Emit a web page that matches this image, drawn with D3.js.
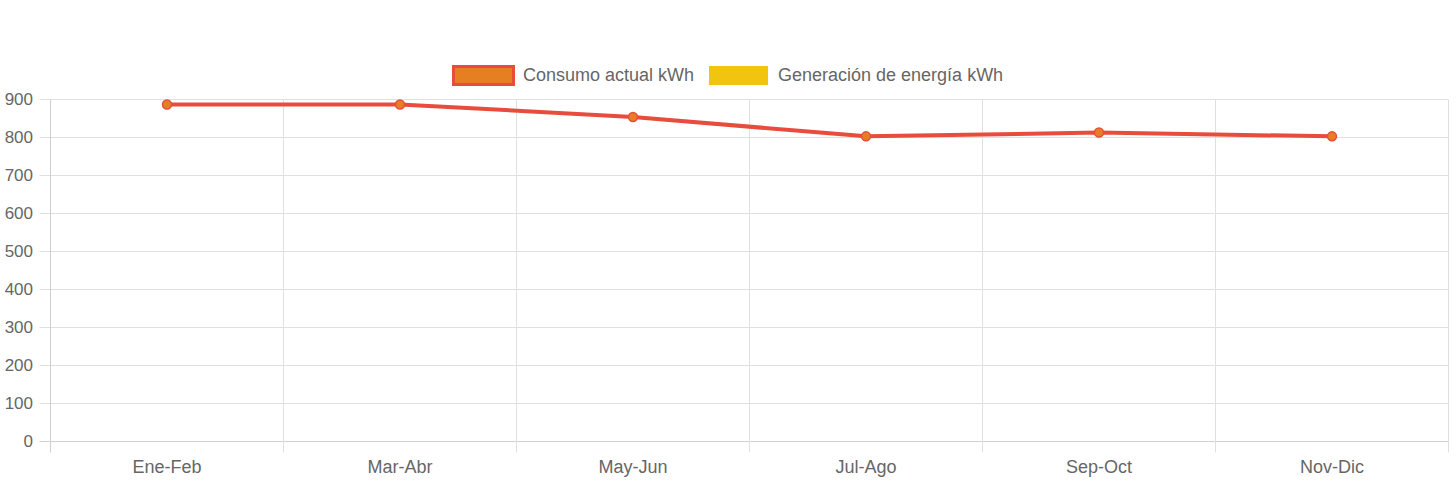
<!DOCTYPE html>
<html><head><meta charset="utf-8">
<script src="https://cdn.jsdelivr.net/npm/d3@7"></script>
<style>body{margin:0;background:#fff}svg{display:block}text{font-family:"Liberation Sans",Arial,sans-serif}</style>
</head><body><svg id="c" width="1456" height="484"></svg>
<script>
const categories = ["Ene-Feb","Mar-Abr","May-Jun","Jul-Ago","Sep-Oct","Nov-Dic"];
const consumo = [887, 887, 854, 803, 813, 803];
const generacion = [];
const yTicks = [0,100,200,300,400,500,600,700,800,900];
const seriesNames = ["Consumo actual kWh","Generación de energía kWh"];

const svg = d3.select("#c");
const L=50.5, R=1448.5, T=99.5, B=441.5;
const x = d3.scaleBand().domain(categories).range([L,R]);
const y = d3.scaleLinear().domain([0,900]).range([B,T]);
const grid = "#e0e0e0", txt="#666";

// horizontal grid
svg.append("g").selectAll("line").data(yTicks).join("line")
  .attr("x1",L-11).attr("x2",R).attr("y1",d=>y(d)).attr("y2",d=>y(d))
  .attr("stroke",d=>d===0?"#cfcfcf":grid).attr("stroke-width",1);
// vertical grid at band boundaries
const bounds = categories.map(c=>x(c)).concat([R]);
svg.append("g").selectAll("line").data(bounds).join("line")
  .attr("x1",d=>d).attr("x2",d=>d).attr("y1",T).attr("y2",B+11)
  .attr("stroke",(d,i)=>i===0?"#cfcfcf":grid).attr("stroke-width",1);

// y labels
svg.append("g").selectAll("text").data(yTicks).join("text")
  .attr("x",33).attr("y",d=>y(d)).attr("dy","0.35em").attr("text-anchor","end")
  .attr("font-size",17).attr("fill",txt).text(d=>d);
// x labels
svg.append("g").selectAll("text").data(categories).join("text")
  .attr("x",d=>x(d)+x.bandwidth()/2).attr("y",467).attr("dy","0.35em").attr("text-anchor","middle")
  .attr("font-size",18).attr("fill",txt).text(d=>d);

// line
const pts = categories.map((c,i)=>({c,v:consumo[i]}));
svg.append("path").datum(pts)
  .attr("d", d3.line().x(d=>x(d.c)+x.bandwidth()/2).y(d=>y(d.v)))
  .attr("fill","none").attr("stroke","#e74c3c").attr("stroke-width",4).attr("stroke-linejoin","round");
svg.append("g").selectAll("circle").data(pts).join("circle")
  .attr("cx",d=>x(d.c)+x.bandwidth()/2).attr("cy",d=>y(d.v)).attr("r",4.5)
  .attr("fill","#e67e22").attr("stroke","#e74c3c").attr("stroke-width",1.5);
const gpts = generacion.map((v,i)=>({c:categories[i],v}));
svg.append("path").datum(gpts)
  .attr("d", d3.line().x(d=>x(d.c)+x.bandwidth()/2).y(d=>y(d.v)))
  .attr("fill","none").attr("stroke","#f1c40f").attr("stroke-width",4);

// legend
const lg = svg.append("g");
lg.append("rect").attr("x",453.5).attr("y",66.5).attr("width",60).attr("height",18)
  .attr("fill","#e67e22").attr("stroke","#e74c3c").attr("stroke-width",3);
lg.append("text").attr("x",523).attr("y",75).attr("dy","0.35em").attr("font-size",18).attr("fill",txt).text(seriesNames[0]);
lg.append("rect").attr("x",709).attr("y",66).attr("width",59).attr("height",19)
  .attr("fill","#f1c40f");
lg.append("text").attr("x",778).attr("y",75).attr("dy","0.35em").attr("font-size",18).attr("fill",txt).text(seriesNames[1]);
</script></body></html>
